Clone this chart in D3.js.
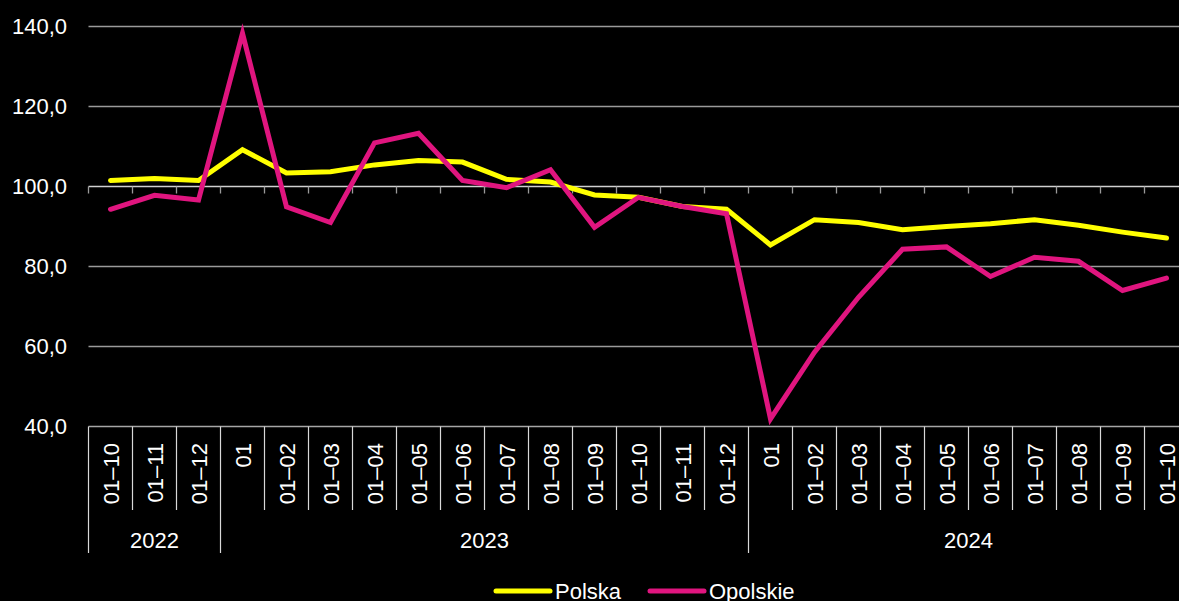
<!DOCTYPE html>
<html>
<head>
<meta charset="utf-8">
<script src="https://cdn.jsdelivr.net/npm/d3@7"></script>
<style>
  html, body { margin: 0; padding: 0; background: #000; }
  svg { display: block; font-family: "Liberation Sans", Arial, sans-serif; }
</style>
</head>
<body>
<svg id="chart" width="1179" height="601"></svg>
<script>
const months = ["01–10", "01–11", "01–12",
  "01", "01–02", "01–03", "01–04", "01–05", "01–06", "01–07", "01–08", "01–09", "01–10", "01–11", "01–12",
  "01", "01–02", "01–03", "01–04", "01–05", "01–06", "01–07", "01–08", "01–09", "01–10"]
const years = [{ label: "2022", n: 3 }, { label: "2023", n: 12 }, { label: "2024", n: 10 }]

const polska = [101.5, 102, 101.5,
  109.2, 103.4, 103.7, 105.4, 106.5, 106.1, 101.8, 101.1, 97.9, 97.3, 95, 94.3,
  85.4, 91.7, 91, 89.2, 90, 90.7, 91.7, 90.3, 88.6, 87.1]
const opolskie = [94.3, 97.8, 96.6,
  138.3, 94.9, 91, 110.9, 113.3, 101.5, 99.7, 104.2, 89.8, 97.3, 95, 93.2,
  41.9, 58.6, 72.3, 84.3, 84.9, 77.5, 82.3, 81.3, 74, 77.1]
const yTicks = [40, 60, 80, 100, 120, 140]

const series = [
  { name: "Polska", values: polska, color: "#ffff00" },
  { name: "Opolskie", values: opolskie, color: "#e0157f" }
]

const svg = d3.select("#chart")
const left = 88.5, step = 44
const keys = months.map((m, i) => i)

const x = d3.scaleBand()
  .domain(keys)
  .range([left, left + step * months.length])
  .padding(0)

const y = d3.scaleLinear()
  .domain([40, 140])
  .range([426.5, 26.5])

const fmt = v => d3.format(".1f")(v).replace(".", ",")

// gridlines
svg.append("g")
  .selectAll("line")
  .data(yTicks.filter(t => t !== 100))
  .join("line")
  .attr("x1", left).attr("x2", 1179)
  .attr("y1", d => y(d)).attr("y2", d => y(d))
  .attr("stroke", d => d === 40 ? "#a6a6a6" : "#9a9a9a")
  .attr("stroke-width", 1.3)

// y labels
svg.append("g")
  .selectAll("text")
  .data(yTicks)
  .join("text")
  .attr("x", 67)
  .attr("y", d => y(d))
  .attr("dy", "0.35em")
  .attr("text-anchor", "end")
  .attr("fill", "#fff")
  .attr("font-size", 22)
  .text(fmt)

// category axis crosses at 100
const axis100 = svg.append("g")
axis100.append("line")
  .attr("x1", left).attr("x2", 1179)
  .attr("y1", y(100)).attr("y2", y(100))
  .attr("stroke", "#d0d0d0").attr("stroke-width", 1.3)
axis100.selectAll(".tk")
  .data(d3.range(months.length + 1))
  .join("line")
  .attr("class", "tk")
  .attr("x1", i => left + i * step).attr("x2", i => left + i * step)
  .attr("y1", y(100)).attr("y2", y(100) + 7)
  .attr("stroke", "#9a9a9a").attr("stroke-width", 1.3)

// bottom category labels + separators
const bottom = svg.append("g")
let yearStart = [0]
years.forEach((yr, i) => yearStart.push(yearStart[i] + yr.n))

bottom.selectAll(".sep")
  .data(d3.range(months.length + 1))
  .join("line")
  .attr("class", "sep")
  .attr("x1", i => left + i * step).attr("x2", i => left + i * step)
  .attr("y1", y(40))
  .attr("y2", i => yearStart.includes(i) ? 553 : 510)
  .attr("stroke", "#d8d8d8").attr("stroke-width", 1.2)

bottom.selectAll(".mlab")
  .data(months)
  .join("text")
  .attr("class", "mlab")
  .attr("transform", (d, i) => `translate(${x(i) + x.bandwidth() / 2 + 8},443) rotate(-90)`)
  .attr("text-anchor", "end")
  .attr("fill", "#fff")
  .attr("font-size", 22)
  .text(d => d)

bottom.selectAll(".ylab")
  .data(years)
  .join("text")
  .attr("class", "ylab")
  .attr("x", (d, i) => left + (yearStart[i] + d.n / 2) * step)
  .attr("y", 548)
  .attr("text-anchor", "middle")
  .attr("fill", "#fff")
  .attr("font-size", 22)
  .text(d => d.label)

// lines
const line = d3.line()
  .x((d, i) => x(i) + x.bandwidth() / 2)
  .y(d => y(d))

svg.append("g")
  .selectAll("path")
  .data(series)
  .join("path")
  .attr("d", d => line(d.values))
  .attr("fill", "none")
  .attr("stroke", d => d.color)
  .attr("stroke-width", 5)
  .attr("stroke-linejoin", "miter")
  .attr("stroke-linecap", "round")

// legend
const legend = svg.append("g")
const legX = [496, 650]
series.forEach((s, i) => {
  const g = legend.append("g").attr("transform", `translate(${legX[i]},591)`)
  g.append("line")
    .attr("x1", 0).attr("x2", 54)
    .attr("stroke", s.color).attr("stroke-width", 5)
    .attr("stroke-linecap", "round")
  g.append("text")
    .attr("x", 59).attr("y", 0)
    .attr("dy", "0.35em")
    .attr("fill", "#fff")
    .attr("font-size", 22)
    .text(s.name)
})
</script>
</body>
</html>
